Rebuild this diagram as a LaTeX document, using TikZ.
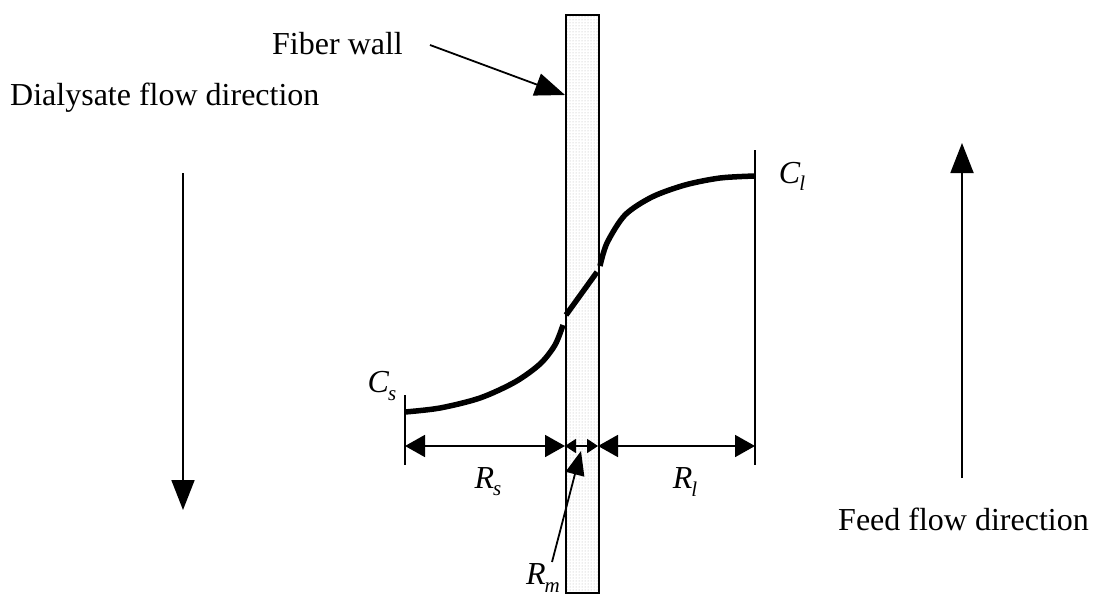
\documentclass[tikz,border=0pt]{standalone}
\usepackage{fontspec}
\setmainfont{Liberation Serif}
\usetikzlibrary{arrows.meta,patterns}
\newcommand{\mysub}[2]{\textit{#1}\kern-1pt\raisebox{-0.22em}{\fontsize{21}{24}\selectfont\textit{#2}}}
\begin{document}
\begin{tikzpicture}[x=1pt,y=-1pt,font=\fontsize{32}{38}\selectfont,
  thinline/.style={line width=1.8pt},
  bigarrow/.style={thinline,-{Triangle[length=30pt,width=23pt]}},
  dimarrow/.style={thinline,{Triangle[length=20pt,width=22pt]}-{Triangle[length=20pt,width=22pt]}},
  smallarrow/.style={thinline,{Triangle[length=11pt,width=14pt]}-{Triangle[length=11pt,width=14pt]}},
  ptrarrow/.style={thinline,-{Triangle[length=24pt,width=19pt]}},
  profile/.style={line width=5.5pt},
  label/.style={inner sep=0pt}]
\useasboundingbox (0,0) rectangle (1095,602);
% fiber wall
\node[draw,line width=2.2pt,minimum width=33pt,minimum height=578pt,inner sep=0pt,
      pattern=dots,pattern color=gray!60,anchor=north west] (wall) at (565,14) {};
% texts
\node[label,anchor=base west] (dial) at (10,105) {Dialysate flow direction};
\node[label,anchor=base west] (feed) at (838,530) {Feed flow direction};
\node[label,anchor=base west] (fw) at (272,55) {Fiber wall};
\node[label] (cs) at (382,386) {\mysub{C}{s}};
\node[label] (cl) at (792,176) {\mysub{C}{l}};
\node[label] (rs) at (488,482) {\mysub{R}{s}};
\node[label] (rl) at (685,482) {\mysub{R}{l}};
\node[label] (rm) at (543,578) {\mysub{R}{m}};
% coordinates
\coordinate (dtop) at (183,173);
\coordinate (dbot) at (183,510);
\coordinate (ftop) at (962,143);
\coordinate (fbot) at (962,478);
\coordinate (fwstart) at (430,45);
\coordinate (fwtip) at (565,95);
\coordinate (lt) at (405,395);
\coordinate (lb) at (405,465);
\coordinate (rt) at (755,150);
\coordinate (rb) at (755,465);
\coordinate (d1) at (405,446);
\coordinate (d2) at (565,446);
\coordinate (d3) at (598,446);
\coordinate (d4) at (755,446);
\coordinate (rmstart) at (552,562);
\coordinate (rmtip) at (581,451);
% arrows
\draw[bigarrow] (dtop) -- (dbot);
\draw[bigarrow] (fbot) -- (ftop);
\draw[bigarrow] (fwstart) -- (fwtip);
\draw[thinline] (lt) -- (lb);
\draw[thinline] (rt) -- (rb);
\draw[dimarrow] (d1) -- (d2);
\draw[smallarrow] (d2) -- (d3);
\draw[dimarrow] (d3) -- (d4);
\draw[ptrarrow] (rmstart) -- (rmtip);
% concentration profile
\draw[profile] plot[smooth] coordinates {(405,412) (440,408) (480,398) (515,382) (540,364) (555,345) (563,325)};
\draw[profile] (566,315) -- (597,272);
\draw[profile] plot[smooth] coordinates {(600,266) (607,243) (625,215) (652,197) (685,185) (720,178) (755,176)};
\end{tikzpicture}
\end{document}
